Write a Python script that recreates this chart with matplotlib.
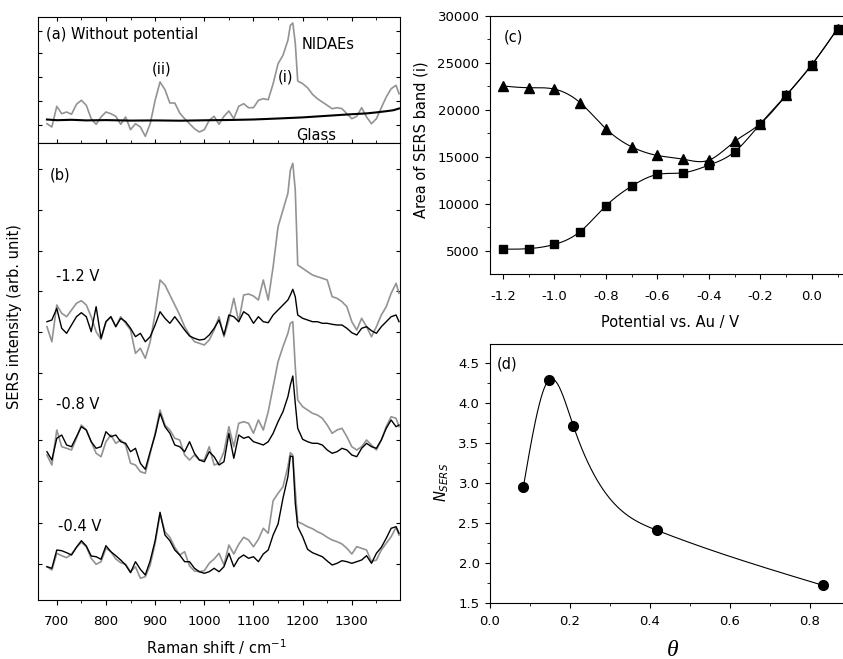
import numpy as np
import matplotlib.pyplot as plt
from matplotlib.ticker import MultipleLocator, FormatStrFormatter

plt.rcParams['font.family'] = ['DejaVu Sans']
plt.rcParams['mathtext.fontset'] = 'custom'
plt.rcParams['mathtext.rm'] = 'DejaVu Sans'
plt.rcParams['mathtext.it'] = 'DejaVu Sans:italic'
plt.rcParams['axes.unicode_minus'] = False

# Raman shift grid (cm-1) shared by the spectra
shift = [680, 690, 700, 710, 720, 730, 740, 750, 760, 770,
         780, 790, 800, 810, 820, 830, 840, 850, 860, 870,
         880, 890, 900, 910, 920, 930, 940, 950, 960, 970,
         980, 990, 1000, 1010, 1020, 1030, 1040, 1050, 1060, 1070,
         1080, 1090, 1100, 1110, 1120, 1130, 1140, 1150, 1160, 1170,
         1175, 1180, 1185,
         1190, 1200, 1210, 1220, 1230, 1240, 1250, 1260, 1270, 1280,
         1290, 1300, 1310, 1320, 1330, 1340, 1350, 1360, 1370, 1380,
         1390, 1396]

# (a) without potential
nidaes = [19.3, 16, 36.7, 29.3, 31, 28.7, 38.7, 42.7, 37.7, 24.3,
          18.7, 26, 31, 29.3, 26.7, 18.7, 26, 13.3, 19.3, 16,
          6.7, 19.3, 42.7, 61, 53.3, 40, 40, 30, 24.3, 19.3,
          14.3, 11, 13.3, 22.7, 26.7, 18.7, 26.7, 32, 24.3, 36.7,
          39.3, 35.3, 35.3, 42.7, 44.3, 43.3, 59.3, 79.3, 87.7, 102.7,
          117.7, 120, 100,
          62, 59.3, 55.3, 48.7, 44.3, 41, 37.7, 34.3, 35.3, 34.3,
          29.3, 24.3, 26.7, 35.3, 26, 19.3, 24.3, 35.3, 46, 54.3,
          57.7, 49.3]
glass_shift = [680, 700, 730, 760, 800, 850, 900, 950, 1000, 1050,
               1100, 1150, 1200, 1250, 1300, 1330, 1350, 1370, 1385, 1396]
glass = [23.5, 22.8, 23.2, 22.6, 22.9, 22.4, 22.6, 22.3, 22.7, 23.0,
         23.5, 24.5, 25.6, 27.2, 28.8, 29.6, 30.6, 31.8, 32.8, 34.5]

# (b) with potential, gray = NIDAEs, black = second sample
gray_12 = [273.3, 258.3, 295, 286.7, 283.3, 290, 296.7, 299.3, 295, 283.3,
           268.3, 260.7, 278.3, 283.3, 273.3, 283.3, 276.7, 270, 246.7, 251.7,
           241.7, 258.3, 286.7, 320, 315, 305, 295, 285, 273.3, 265,
           258.3, 256.7, 255, 260, 270, 283.3, 263.3, 280, 301.7, 278.3,
           305, 306, 304, 300, 320, 300, 333.3, 373.3, 390, 406.7,
           430, 436.7, 410,
           335, 331.7, 328.3, 325, 323.3, 321.7, 320, 303.3, 301.7, 298.3,
           293.3, 278.3, 270, 281.7, 273.3, 263.3, 273.3, 285, 293.3, 306.7,
           316.7, 306.7]
black_12 = [278.3, 280, 291.7, 271.7, 266.7, 275, 283.3, 287.3, 283.3, 268.3,
            293.3, 261.7, 278.3, 283.3, 273.3, 281.7, 278.3, 271.7, 263.3, 266.7,
            258.3, 263.3, 275, 288.3, 281.7, 276.7, 283.3, 276.7, 270, 264,
            261.7, 260, 260.7, 265, 271.7, 280, 265, 285, 283.3, 278.3,
            288.3, 285, 276.7, 283.3, 278.3, 277.3, 285, 290, 295, 300,
            305, 310.7, 303.3,
            285, 281.7, 280, 278.3, 278.3, 276.7, 276.7, 275.7, 275, 275,
            271.7, 267.3, 265, 271.7, 273.3, 269.3, 266.7, 273.3, 278.3, 283.3,
            285, 278.3]
gray_08 = [145, 135, 170, 153.3, 151.7, 150, 161.7, 175, 170, 158.3,
           146.7, 143.3, 158.3, 165, 156.7, 160, 155, 136.7, 135, 128.3,
           126.7, 146.7, 166.7, 190, 175, 170, 161.7, 160, 145, 140,
           145, 140, 140, 153.3, 135, 136.7, 148.3, 173.3, 153.3, 176.7,
           178.3, 176.7, 166.7, 180, 170, 188.3, 213.3, 238.3, 253.3, 266.7,
           276.7, 278.3, 233,
           200, 193.3, 190, 186.7, 185, 181.7, 175, 166.7, 170, 171.7,
           163.3, 153.3, 150, 153.3, 160, 155, 150, 160, 173.3, 183.3,
           181.7, 173.3]
black_08 = [148.3, 140, 161.7, 165, 155, 153.3, 163.3, 173.3, 170, 158.3,
            151.7, 153.3, 168.3, 163.3, 165, 158.3, 156.7, 148.3, 151.7, 136.7,
            130.7, 148.3, 165, 186.7, 173.3, 166.7, 155, 153.3, 148.3, 158.3,
            146.7, 140, 138.3, 148.3, 143.3, 135, 138.3, 166.7, 141.7, 165,
            161.7, 163.3, 158.3, 156.7, 155, 158.3, 166.7, 178.3, 188.3, 203.3,
            215, 224, 196.7,
            171.7, 160.7, 158.3, 156.7, 156.7, 155, 150, 146.7, 148.3, 151.7,
            150, 145, 143.3, 151.7, 156.7, 153.3, 151.7, 160, 171.7, 180,
            173.3, 175]
gray_04 = [33.3, 30, 46.7, 44.3, 42.3, 46, 52.7, 57.7, 53.3, 41.7,
           35.7, 38.3, 51.7, 48.3, 41, 37.3, 35.7, 28.3, 33.3, 21.7,
           23.3, 35, 56.7, 86, 68.3, 62.7, 52.7, 45, 48.3, 34,
           29, 28.3, 29.3, 36.7, 41, 46.7, 35, 55, 46, 55.7,
           62.7, 60, 53.3, 60.7, 71.7, 66.7, 99.3, 106.7, 113.3, 133.3,
           147.3, 145, 110,
           78.3, 76, 73.3, 71.3, 68.3, 66, 62.7, 60, 58.3, 56,
           51.7, 46, 53.3, 51.7, 50, 38.3, 40, 50, 56.7, 63.3,
           72.7, 65]
black_04 = [33.3, 31.7, 50, 49.3, 47.3, 45, 52.7, 59.3, 54, 44,
            43.3, 40.7, 54.3, 48.3, 44.3, 40, 35, 27.3, 38.3, 30.7,
            25, 39.3, 59.3, 87.7, 65, 59.3, 50, 45, 38.3, 38.3,
            31.7, 28.3, 26.7, 28.3, 31.7, 28.3, 33.3, 46.7, 33.3, 41.7,
            45, 41.7, 43.3, 38.3, 46, 50, 65, 76, 101.7, 123.3,
            144, 143.3, 96.7,
            73.3, 63.3, 50.7, 47.3, 45.3, 43.3, 39, 35, 36.7, 39.3,
            38.3, 36.7, 38.3, 40, 44.3, 36.7, 46.7, 52.7, 61.7, 71.7,
            73.3, 66.7]

# (c) area of SERS band (i) vs potential
potential = [-1.2, -1.1, -1.0, -0.9, -0.8, -0.7, -0.6, -0.5, -0.4, -0.3, -0.2, -0.1, 0.0, 0.1]
area_tri = [22550, 22370, 22220, 20770, 18000, 16080, 15160, 14770, 14660, 16650, 18550, 21550, 24820, 28650]
area_sq = [5190, 5250, 5700, 7070, 9800, 11900, 13140, 13320, 14130, 15550, 18530, 21550, 24820, 28650]

# (d) N_SERS vs coverage
theta = [0.0833, 0.147, 0.208, 0.417, 0.833]
n_sers = [2.95, 4.29, 3.72, 2.41, 1.72]


def spline(x, y, n=400):
    # natural cubic spline, like the "spline" connection in Origin
    x = np.asarray(x, float)
    y = np.asarray(y, float)
    h = np.diff(x)
    m = len(x)
    A = np.zeros((m, m))
    r = np.zeros(m)
    A[0, 0] = A[-1, -1] = 1
    for i in range(1, m - 1):
        A[i, i - 1] = h[i - 1]
        A[i, i] = 2 * (h[i - 1] + h[i])
        A[i, i + 1] = h[i]
        r[i] = 3 * ((y[i + 1] - y[i]) / h[i] - (y[i] - y[i - 1]) / h[i - 1])
    c = np.linalg.solve(A, r)
    b = (y[1:] - y[:-1]) / h - h * (2 * c[:-1] + c[1:]) / 3
    d = (c[1:] - c[:-1]) / (3 * h)
    xs = np.linspace(x[0], x[-1], n)
    k = np.clip(np.searchsorted(x, xs) - 1, 0, m - 2)
    dx = xs - x[k]
    return xs, y[k] + b[k] * dx + c[k] * dx ** 2 + d[k] * dx ** 3


W, H = 843, 659
def box(l, t, r, b):
    return [l / W, 1 - b / H, (r - l) / W, (b - t) / H]

fig = plt.figure(figsize=(W / 100, H / 100), dpi=100)
GRAY = '#939393'
TS = 9.5
LS = 10.5

# ---- (a)
axa = fig.add_axes(box(38, 17, 400, 143))
axa.plot(shift, nidaes, color=GRAY, lw=1.2)
axa.plot(glass_shift, glass, color='black', lw=1.5)
axa.set_xlim(661.8, 1398)
axa.set_ylim(0, 126)
axa.set_yticks([18, 42, 66, 90, 112])
axa.xaxis.set_major_locator(MultipleLocator(100))
axa.xaxis.set_minor_locator(MultipleLocator(50))
axa.tick_params(which='both', direction='in', top=True, right=True,
                labelleft=False, labelbottom=False, length=3)
axa.tick_params(which='minor', length=2)
axa.text(0.022, 0.865, '(a) Without potential', transform=axa.transAxes,
         fontsize=LS, va='center', ha='left')
axa.text(0.727, 0.782, 'NIDAEs', transform=axa.transAxes, fontsize=LS, va='center')
axa.text(0.3425, 0.591, '(ii)', transform=axa.transAxes, fontsize=LS, va='center', ha='center')
axa.text(0.684, 0.524, '(i)', transform=axa.transAxes, fontsize=LS, va='center', ha='center')
axa.text(0.713, 0.063, 'Glass', transform=axa.transAxes, fontsize=LS, va='center')

# ---- (b)
axb = fig.add_axes(box(38, 143, 400, 600))
for g, k in [(gray_12, black_12), (gray_08, black_08), (gray_04, black_04)]:
    axb.plot(shift, g, color=GRAY, lw=1.2)
    axb.plot(shift, k, color='black', lw=1.0)
axb.set_xlim(661.8, 1398)
axb.set_ylim(0, 457)
axb.set_yticks([36, 77, 119, 160, 201, 227, 268, 309, 349, 390, 431])
axb.xaxis.set_major_locator(MultipleLocator(100))
axb.xaxis.set_minor_locator(MultipleLocator(50))
axb.tick_params(axis='y', direction='in', right=True, labelleft=False, length=3)
axb.tick_params(axis='x', which='both', direction='out', top=False,
                labelsize=TS, length=3.5, pad=7)
axb.tick_params(axis='x', which='minor', length=2)
axb.text(0.032, 0.93, '(b)', transform=axb.transAxes, fontsize=LS, va='center')
axb.text(0.0506, 0.7075, '-1.2 V', transform=axb.transAxes, fontsize=LS, va='center')
axb.text(0.0506, 0.4267, '-0.8 V', transform=axb.transAxes, fontsize=LS, va='center')
axb.text(0.055, 0.1604, '-0.4 V', transform=axb.transAxes, fontsize=LS, va='center')
fig.text(216 / W, 1 - 647 / H, 'Raman shift / cm$^{-1}$', fontsize=LS, ha='center', va='center')
fig.text(15 / W, 1 - 317 / H, 'SERS intensity (arb. unit)', fontsize=LS,
         ha='center', va='center', rotation=90)

# ---- (c)
axc = fig.add_axes(box(490, 16, 846, 274))
xs, ys = spline(potential, area_tri)
axc.plot(xs, ys, color='black', lw=0.8)
xs, ys = spline(potential, area_sq)
axc.plot(xs, ys, color='black', lw=0.8)
axc.plot(potential, area_tri, '^', color='black', ms=7, clip_on=False)
axc.plot(potential, area_sq, 's', color='black', ms=6.2, clip_on=False)
axc.set_xlim(-1.2505, 0.1328)
axc.set_ylim(2550, 30000)
axc.xaxis.set_major_locator(MultipleLocator(0.2))
axc.xaxis.set_minor_locator(MultipleLocator(0.1))
axc.yaxis.set_major_locator(MultipleLocator(5000))
axc.yaxis.set_minor_locator(MultipleLocator(2500))
axc.xaxis.set_major_formatter(FormatStrFormatter('%.1f'))
axc.spines['right'].set_visible(False)
axc.tick_params(which='both', direction='out', labelsize=TS, length=3.5)
axc.tick_params(which='minor', length=2)
axc.tick_params(axis='x', pad=8)
axc.tick_params(axis='y', pad=4)
fig.text(670 / W, 1 - 322 / H, 'Potential vs. Au / V', fontsize=LS, ha='center', va='center')
fig.text(421 / W, 1 - 140 / H, 'Area of SERS band (i)', fontsize=LS,
         ha='center', va='center', rotation=90)
axc.text(0.0374, 0.917, '(c)', transform=axc.transAxes, fontsize=LS, va='center')

# ---- (d)
axd = fig.add_axes(box(490, 344, 846, 603))
xs, ys = spline(theta, n_sers)
axd.plot(xs, ys, color='black', lw=0.8)
axd.plot(theta, n_sers, 'o', color='black', ms=7)
axd.set_xlim(0, 0.89)
axd.set_ylim(1.5, 4.74)
axd.xaxis.set_major_locator(MultipleLocator(0.2))
axd.xaxis.set_minor_locator(MultipleLocator(0.1))
axd.yaxis.set_major_locator(MultipleLocator(0.5))
axd.yaxis.set_minor_locator(MultipleLocator(0.25))
axd.xaxis.set_major_formatter(FormatStrFormatter('%.1f'))
axd.yaxis.set_major_formatter(FormatStrFormatter('%.1f'))
axd.spines['right'].set_visible(False)
axd.tick_params(which='both', direction='out', labelsize=TS, length=3.5)
axd.tick_params(which='minor', length=2)
axd.tick_params(axis='x', pad=5)
axd.tick_params(axis='y', pad=4)
fig.text(442 / W, 1 - 482 / H, '$N_{SERS}$', fontsize=LS,
         ha='center', va='center', rotation=90)
fig.text(673 / W, 1 - 650 / H, 'θ', fontsize=17, family='Liberation Serif',
         style='italic', ha='center', va='center')
axd.text(0.0188, 0.923, '(d)', transform=axd.transAxes, fontsize=LS, va='center')

fig.savefig('out.png', dpi=100)
